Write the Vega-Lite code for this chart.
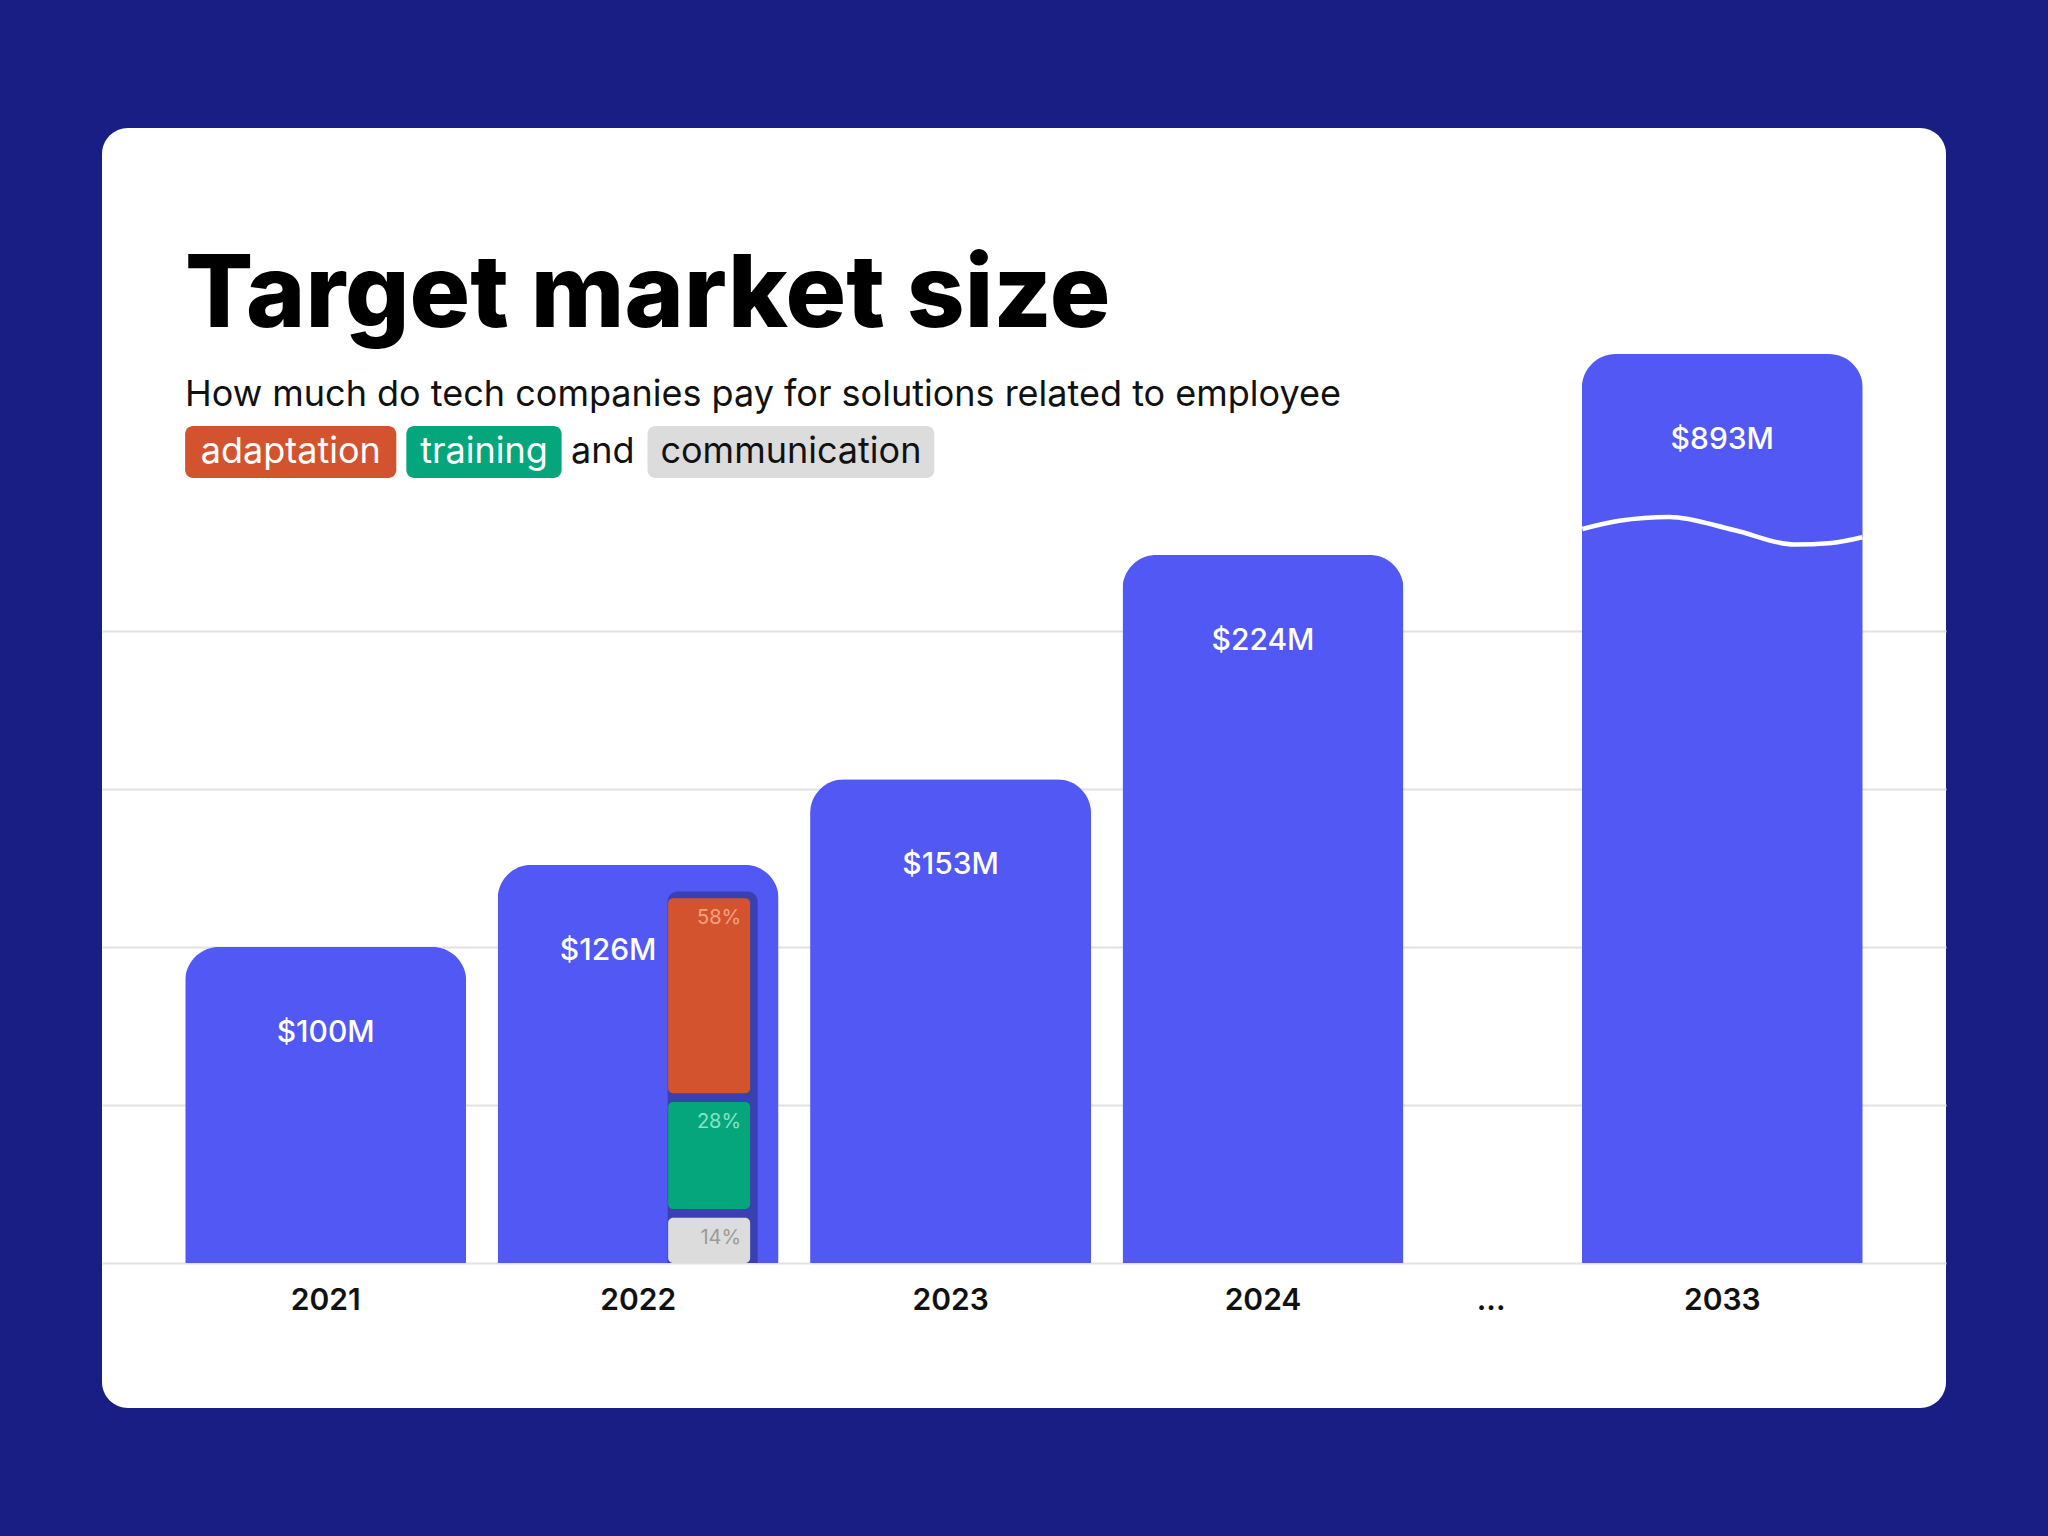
{
  "$schema": "https://vega.github.io/schema/vega-lite/v6.json",
  "description": "Target market size, tech spend on employee adaptation, training and communication",
  "autosize": {"type": "none"},
  "padding": {"left": 102, "top": 128, "right": 102, "bottom": 128},
  "width": 1844,
  "height": 1280,
  "background": "#181e84",
  "title": {
    "text": "Target market size",
    "subtitle": "How much do tech companies pay for solutions related to employee",
    "anchor": "start",
    "frame": "group",
    "orient": "top",
    "offset": -286,
    "dx": 83,
    "font": "Inter",
    "fontSize": 101,
    "fontWeight": 800,
    "color": "#000000",
    "subtitleFont": "Inter",
    "subtitleFontSize": 36,
    "subtitleFontWeight": 400,
    "subtitleColor": "#111111",
    "subtitlePadding": 30
  },
  "datasets": {
    "bars": [
      {"year": "2021", "slot": 0, "value": 100, "label": "$100M"},
      {"year": "2022", "slot": 1, "value": 126, "label": "$126M"},
      {"year": "2023", "slot": 2, "value": 153, "label": "$153M"},
      {"year": "2024", "slot": 3, "value": 224, "label": "$224M"},
      {"year": "...", "slot": 3.73, "value": null, "label": ""},
      {"year": "2033", "slot": 4.47, "value": 893, "label": "$893M"}
    ],
    "breakdown": [
      {"year": "2022", "cat": "adaptation", "share": "58%", "lo": 53.7, "hi": 115.4},
      {"year": "2022", "cat": "training", "share": "28%", "lo": 17.1, "hi": 50.9},
      {"year": "2022", "cat": "communication", "share": "14%", "lo": 0, "hi": 14.3}
    ],
    "wave": [
      {"slot": 4.022, "v": 232.2},
      {"slot": 4.14, "v": 234.8},
      {"slot": 4.3, "v": 236.0},
      {"slot": 4.51, "v": 231.8},
      {"slot": 4.7, "v": 227.3},
      {"slot": 4.82, "v": 227.8},
      {"slot": 4.918, "v": 229.6}
    ],
    "chips": [
      {"cat": "adaptation", "x0": -0.45, "x1": 0.226, "mid": -0.112},
      {"cat": "training", "x0": 0.258, "x1": 0.755, "mid": 0.5065},
      {"cat": "and", "x0": 0.79, "x1": 0.99, "mid": 0.887},
      {"cat": "communication", "x0": 1.03, "x1": 1.948, "mid": 1.489}
    ]
  },
  "encoding": {
    "x": {
      "field": "slot",
      "type": "quantitative",
      "scale": {"domain": [-0.7, 5.17], "nice": false, "zero": false},
      "axis": null
    }
  },
  "layer": [
    {
      "data": {"name": "bars"},
      "transform": [{"filter": "datum.value != null"}],
      "mark": {"type": "bar", "width": 281, "color": "#5258f4", "cornerRadiusTopLeft": 34, "cornerRadiusTopRight": 34},
      "encoding": {
        "y": {
          "field": "value",
          "type": "quantitative",
          "scale": {"domain": [-45.87, 270, 893], "range": [1280, 281.5, 226], "nice": false, "zero": false},
          "axis": {
            "values": [0, 50, 100, 150, 200],
            "grid": true,
            "gridColor": "#e2e2e2",
            "gridWidth": 2,
            "labels": false,
            "ticks": false,
            "domain": false,
            "title": null
          }
        }
      }
    },
    {
      "data": {"name": "bars"},
      "transform": [{"filter": "datum.year == '2022'"}],
      "mark": {"type": "bar", "width": 90, "xOffset": 74.5, "color": "#3a3fb2", "cornerRadiusTopLeft": 10, "cornerRadiusTopRight": 10},
      "encoding": {
        "y": {"datum": 117.5, "type": "quantitative"},
        "y2": {"datum": 0}
      }
    },
    {
      "data": {"name": "breakdown"},
      "transform": [{"lookup": "year", "from": {"data": {"name": "bars"}, "key": "year", "fields": ["slot"]}}],
      "mark": {"type": "bar", "width": 82, "xOffset": 71, "cornerRadius": 5},
      "encoding": {
        "y": {"field": "hi", "type": "quantitative"},
        "y2": {"field": "lo"},
        "color": {
          "field": "cat",
          "type": "nominal",
          "scale": {"domain": ["adaptation", "training", "communication"], "range": ["#d4532f", "#05a67c", "#dcdcdc"]},
          "legend": null
        }
      }
    },
    {
      "data": {"name": "breakdown"},
      "transform": [{"lookup": "year", "from": {"data": {"name": "bars"}, "key": "year", "fields": ["slot"]}}],
      "mark": {"type": "text", "align": "right", "baseline": "middle", "dx": 103, "dy": 20, "font": "Inter", "fontSize": 20},
      "encoding": {
        "y": {"field": "hi", "type": "quantitative"},
        "text": {"field": "share"},
        "color": {
          "condition": [
            {"test": "datum.cat == 'adaptation'", "value": "#f3a283"},
            {"test": "datum.cat == 'training'", "value": "#86e3c6"}
          ],
          "value": "#9a9a9a"
        }
      }
    },
    {
      "data": {"name": "bars"},
      "transform": [{"filter": "datum.value != null && datum.year != '2022'"}],
      "mark": {"type": "text", "align": "center", "baseline": "middle", "dy": 86, "font": "Inter", "fontSize": 30, "fontWeight": 500, "color": "#ffffff"},
      "encoding": {
        "y": {"field": "value", "type": "quantitative"},
        "text": {"field": "label"}
      }
    },
    {
      "data": {"name": "bars"},
      "transform": [{"filter": "datum.year == '2022'"}],
      "mark": {"type": "text", "align": "center", "baseline": "middle", "dx": -30, "dy": 86, "font": "Inter", "fontSize": 30, "fontWeight": 500, "color": "#ffffff"},
      "encoding": {
        "y": {"field": "value", "type": "quantitative"},
        "text": {"field": "label"}
      }
    },
    {
      "data": {"name": "bars"},
      "mark": {"type": "text", "align": "center", "baseline": "middle", "font": "Inter", "fontSize": 30, "fontWeight": 600, "color": "#111111"},
      "encoding": {
        "y": {"datum": -12, "type": "quantitative"},
        "text": {"field": "year"}
      }
    },
    {
      "data": {"name": "wave"},
      "mark": {"type": "line", "interpolate": "monotone", "color": "#ffffff", "strokeWidth": 4.5},
      "encoding": {
        "y": {"field": "v", "type": "quantitative"}
      }
    },
    {
      "data": {"name": "chips"},
      "transform": [{"filter": "datum.cat != 'and'"}],
      "mark": {"type": "rect", "cornerRadius": 8},
      "encoding": {
        "x": {"field": "x0", "type": "quantitative"},
        "x2": {"field": "x1"},
        "y": {"datum": 264.8, "type": "quantitative"},
        "y2": {"datum": 248.3},
        "color": {"field": "cat", "type": "nominal", "legend": null}
      }
    },
    {
      "data": {"name": "chips"},
      "mark": {"type": "text", "align": "center", "baseline": "middle", "font": "Inter", "fontSize": 36},
      "encoding": {
        "x": {"field": "mid", "type": "quantitative"},
        "y": {"datum": 256.5, "type": "quantitative"},
        "text": {"field": "cat"},
        "color": {
          "condition": {"test": "datum.cat == 'and' || datum.cat == 'communication'", "value": "#111111"},
          "value": "#ffffff"
        }
      }
    }
  ],
  "config": {
    "view": {"fill": "#ffffff", "stroke": null, "cornerRadius": 26}
  }
}
